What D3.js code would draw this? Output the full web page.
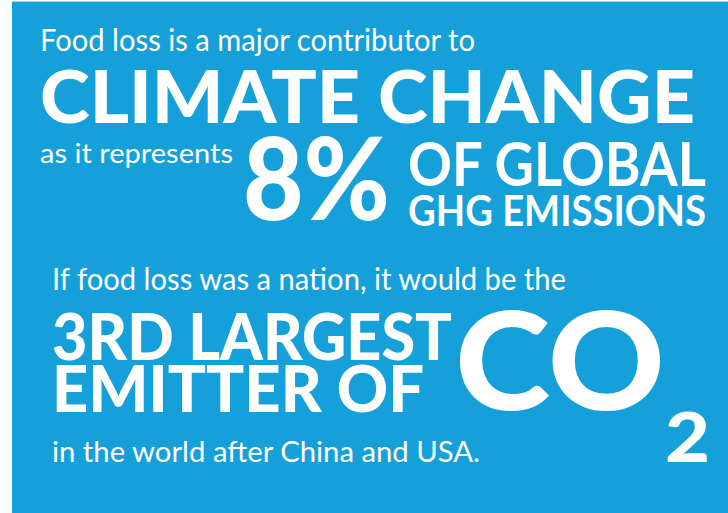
<!DOCTYPE html>
<head>
  <meta charset="utf-8">
  <script src="https://d3js.org/d3.v7.min.js"></script>
  <style>
    body { margin:0; background:#fff; overflow:hidden; }
    text { font-family: Lato, "Open Sans", sans-serif; fill:#fff; }
  </style>
</head>
<body>
<script>

  // the text blocks of the card
  var labels  = ['Food loss is a major contributor to', 'CLIMATE CHANGE', 'as it represents', 'OF GLOBAL', 'GHG EMISSIONS',
                 'If food loss was a nation, it would be the', '3RD LARGEST', 'EMITTER OF', 'in the world after China and USA.'];
  var share   = [8];          // percent of global ghg
  var gas     = ['CO', '2'];

  var width = 728, height = 513;

  var svg = d3.select('body').append('svg')
    .attr('width', width)
    .attr('height', height);

  svg.append('rect')
    .attr('x', 12).attr('y', 1)
    .attr('width', width - 12).attr('height', height - 1)
    .style('fill', '#16a0da');
  svg.append('line')
    .attr('x1', 12).attr('x2', width).attr('y1', 1.5).attr('y2', 1.5)
    .style('stroke', '#8fd6f2').style('stroke-width', 1);

  // x, baseline, size, weight, width for each piece
  var layout = [
    [40, 51, 30, 400, 435],
    [40, 123, 73, 900, 655],
    [40, 163, 27, 400, 193],
    [408, 186, 62, 700, 298],
    [408, 226, 42, 700, 298],
    [52, 290, 30, 400, 514],
    [52, 360, 64, 900, 400],
    [52, 412, 64, 900, 372],
    [52, 462, 29, 400, 428]
  ];

  function put(t, p) {
    svg.append('text')
      .attr('x', p[0]).attr('y', p[1])
      .attr('font-size', p[2])
      .attr('font-weight', p[3])
      .attr('textLength', p[4])
      .attr('lengthAdjust', 'spacingAndGlyphs')
      .text(t);
  }

  labels.forEach(function(t, i) { put(t, layout[i]); });

  put(share[0] + '%', [243, 220, 114, 900, 147]);
  put(gas[0], [455, 410, 136, 900, 210]);
  put(gas[1], [665, 462, 68, 900, 45]);

</script>
</body>
